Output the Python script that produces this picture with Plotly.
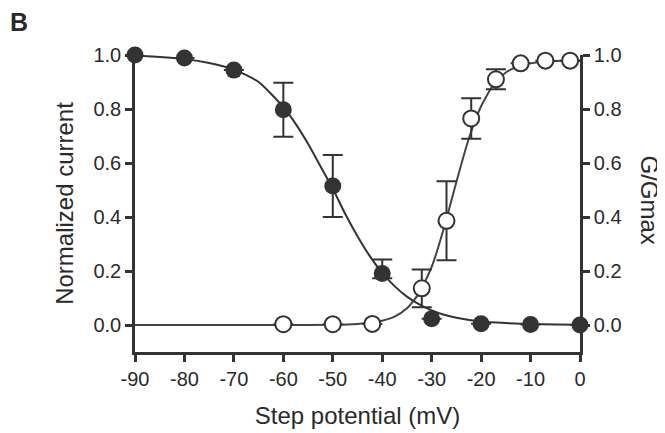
import plotly.graph_objects as go

# ---- data ----
inact_v = [-90, -80, -70, -60, -50, -40, -30, -20, -10, 0]
inact_y = [1.0, 0.989, 0.944, 0.797, 0.515, 0.191, 0.023, 0.005, 0.002, 0.0]
inact_err_plus = [0, 0, 0, 0.10, 0.115, 0.052, 0, 0, 0, 0]
inact_err_minus = [0, 0, 0, 0.10, 0.115, 0.018, 0, 0, 0, 0]

act_v = [-60, -50, -42, -32, -27, -22, -17, -12, -7, -2]
act_y = [0.003, 0.003, 0.004, 0.136, 0.386, 0.765, 0.91, 0.969, 0.979, 0.979]
act_err = [0, 0, 0, 0.07, 0.146, 0.075, 0.037, 0, 0, 0]

# fitted curves
inact_fit_v = [-90, -85, -80, -75, -70, -65, -60, -57.5, -55, -52.5, -50, -47.5, -45,
               -42.5, -40, -37.5, -35, -32.5, -30, -27.5, -25, -20, -15, -10, -5, 0]
inact_fit_y = [0.997, 0.993, 0.985, 0.97, 0.946, 0.90, 0.807, 0.745, 0.671, 0.588, 0.505,
               0.412, 0.329, 0.255, 0.193, 0.144, 0.105, 0.076, 0.054, 0.038, 0.027,
               0.013, 0.007, 0.003, 0.002, 0.001]

act_fit_v = [-90, -70, -60, -50, -45, -42.5, -40, -37.5, -35, -32.5, -30, -27.5, -25,
             -22.5, -20, -17.5, -15, -12.5, -10, -7.5, -5, -2.5, 0]
act_fit_y = [0.0, 0.0, 0.0, 0.001, 0.004, 0.008, 0.016, 0.031, 0.062, 0.119, 0.215,
             0.36, 0.53, 0.69, 0.81, 0.89, 0.935, 0.958, 0.969, 0.975, 0.978, 0.98, 0.98]

x_ticks = [-90, -80, -70, -60, -50, -40, -30, -20, -10, 0]
y_ticks = [0.0, 0.2, 0.4, 0.6, 0.8, 1.0]

DARK = "#333333"
ACT_LINE = "#4a4242"
FONT = "Liberation Sans, Arial, sans-serif"
TXT = "#2a2a2a"

fig = go.Figure()

fig.add_trace(go.Scatter(x=act_fit_v, y=act_fit_y, mode="lines", line=dict(color=ACT_LINE, width=2, shape="spline", smoothing=0.6),
                         hoverinfo="skip", showlegend=False, cliponaxis=False))
fig.add_trace(go.Scatter(x=inact_fit_v, y=inact_fit_y, mode="lines", line=dict(color=DARK, width=2, shape="spline", smoothing=0.6),
                         hoverinfo="skip", showlegend=False, cliponaxis=False))

fig.add_trace(go.Scatter(
    x=act_v, y=act_y, mode="markers",
    marker=dict(size=16, color="white", line=dict(color=DARK, width=2)),
    error_y=dict(type="data", array=act_err, visible=True, color=DARK, thickness=2, width=10),
    showlegend=False, cliponaxis=False))

fig.add_trace(go.Scatter(
    x=inact_v, y=inact_y, mode="markers",
    marker=dict(size=17, color=DARK, line=dict(width=0)),
    error_y=dict(type="data", symmetric=False, array=inact_err_plus, arrayminus=inact_err_minus,
                 visible=True, color=DARK, thickness=2, width=10),
    showlegend=False, cliponaxis=False))

# invisible trace to activate right axis
fig.add_trace(go.Scatter(x=[-90], y=[0], yaxis="y2", mode="markers", marker=dict(opacity=0),
                         hoverinfo="skip", showlegend=False))

axis_common = dict(showline=True, linecolor=DARK, linewidth=2.5, ticks="outside", ticklen=7,
                   tickwidth=2.5, tickcolor=DARK, showgrid=False, zeroline=False,
                   tickfont=dict(family=FONT, size=20, color=TXT), layer="below traces")

fig.update_layout(
    width=665, height=433,
    margin=dict(l=127, r=93, t=47, b=89),
    paper_bgcolor="white", plot_bgcolor="white",
    font=dict(family=FONT, color=TXT),
    xaxis=dict(range=[-90, 0], tickvals=x_ticks, ticktext=[str(v) for v in x_ticks],
               title=dict(text="Step potential (mV)", font=dict(family=FONT, size=24, color=TXT), standoff=19),
               **axis_common),
    yaxis=dict(range=[-0.1, 1.0], tickvals=y_ticks, tickformat=".1f",
               title=dict(text="Normalized current", font=dict(family=FONT, size=24, color=TXT), standoff=14),
               **axis_common),
    yaxis2=dict(range=[-0.1, 1.0], tickvals=y_ticks, tickformat=".1f", overlaying="y", side="right",
                **axis_common),
    annotations=[
        dict(text="G/Gmax", xref="paper", yref="paper", x=1.0, y=0.5, xanchor="center", yanchor="middle",
             xshift=69, yshift=4, textangle=90, showarrow=False,
             font=dict(family=FONT, size=24, color=TXT)),
        dict(text="<b>B</b>", xref="paper", yref="paper", x=0, y=1, xanchor="center", yanchor="middle",
             xshift=-116, yshift=33, showarrow=False, borderpad=0,
             font=dict(family=FONT, size=25, color=TXT)),
    ],
)

fig.write_html("out.html")
